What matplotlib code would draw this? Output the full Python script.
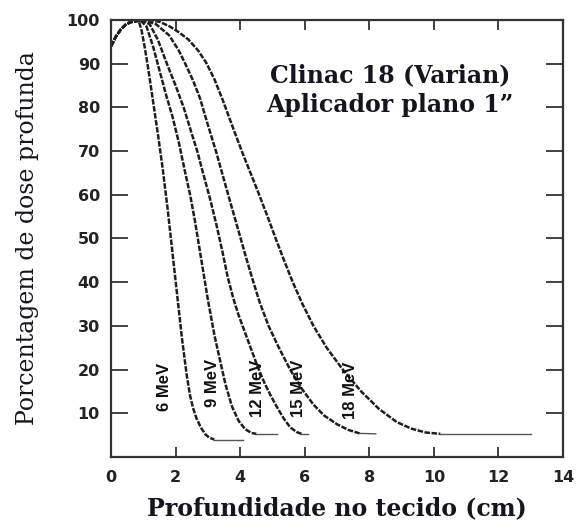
import matplotlib
matplotlib.use("Agg")
import matplotlib.pyplot as plt

# Depth-dose curves for an electron beam (Clinac 18, flat applicator 1")
energies = ["6 MeV", "9 MeV", "12 MeV", "15 MeV", "18 MeV"]

depth_6 = [0.0, 0.15, 0.3, 0.45, 0.6, 0.85, 0.95, 1.05, 1.15, 1.25, 1.35, 1.45, 1.6, 1.75, 1.9, 2.05,
           2.2, 2.35, 2.45, 2.55, 2.65, 2.78, 2.92, 3.05, 3.2, 4.1]
dose_6 = [94, 96.2, 97.8, 98.9, 99.5, 100, 97.5, 93.5, 89, 84, 79, 74, 66, 57, 47, 37,
          27, 18.5, 14, 11, 8.8, 6.8, 5.2, 4.4, 4, 4]

depth_9 = [0.0, 0.15, 0.3, 0.45, 0.6, 0.9, 1.1, 1.3, 1.5, 1.7, 1.9, 2.1, 2.3, 2.45, 2.6, 2.8, 3.0,
           3.2, 3.38, 3.55, 3.75, 3.95, 4.15, 4.35, 4.5, 5.15]
dose_9 = [94, 96.2, 97.8, 98.9, 99.5, 100, 98.5, 94, 88.5, 83, 78, 72, 65, 60, 54, 45, 36,
          28, 22, 16.5, 11.5, 8.3, 6.4, 5.5, 5.3, 5.3]

depth_12 = [0.0, 0.15, 0.3, 0.45, 0.6, 0.95, 1.2, 1.45, 1.73, 2.0, 2.25, 2.5, 2.67, 2.85, 3.07,
            3.27, 3.45, 3.62, 3.8, 3.95, 4.15, 4.35, 4.55, 4.75, 4.95, 5.15, 5.35, 5.55, 5.75,
            5.9, 6.1]
dose_12 = [94, 96.2, 97.8, 98.9, 99.5, 100, 99, 95.5, 90, 85, 80, 74, 70, 65, 59,
           53, 47, 41, 36, 32.5, 28.5, 24.5, 20.5, 17, 14, 11.3, 8.8, 6.8, 5.7,
           5.3, 5.3]

depth_15 = [0.0, 0.15, 0.3, 0.45, 0.6, 1.0, 1.4, 1.8, 2.1, 2.3, 2.55, 2.76, 3.0, 3.25, 3.63, 3.9,
            4.17, 4.37, 4.6, 4.88, 5.2, 5.55, 5.92, 6.27, 6.6, 7.0, 7.35, 7.7, 8.2]
dose_15 = [94, 96.2, 97.8, 98.9, 99.5, 100, 99, 96.5, 93, 90, 86, 82, 76, 70, 60, 53,
           46, 41, 35.5, 30, 25, 20, 15.5, 12, 9.5, 7.5, 6.2, 5.4, 5.3]

depth_18 = [0.0, 0.15, 0.3, 0.45, 0.6, 1.1, 1.5, 1.8, 2.1, 2.4, 2.7, 2.95, 3.2, 3.47, 3.77, 4.05,
            4.32, 4.59, 4.85, 5.1, 5.36, 5.63, 5.93, 6.27, 6.68, 7.18, 7.75, 8.3, 8.85, 9.3, 9.75,
            10.2, 13.0]
dose_18 = [94, 96.2, 97.8, 98.9, 99.5, 100, 99.6, 98.6, 97.2, 95.5, 93, 90.2, 86.5, 81.5, 75.5, 70,
           65, 60, 55, 50, 45, 40, 35, 30, 25, 20, 15, 11, 8, 6.5, 5.6,
           5.3, 5.3]

depths = [depth_6, depth_9, depth_12, depth_15, depth_18]
doses = [dose_6, dose_9, dose_12, dose_15, dose_18]

# label anchor (depth, dose) for each energy tag
label_x = [1.67, 3.13, 4.53, 5.8, 7.41]
label_y = [16, 17, 15.8, 15.8, 15.3]

x_ticks = [0, 2, 4, 6, 8, 10, 12, 14]
y_ticks = [10, 20, 30, 40, 50, 60, 70, 80, 90, 100]

plt.rcParams["lines.scale_dashes"] = False

fig = plt.figure(figsize=(5.77, 5.23), dpi=100)
ax = fig.add_axes([0.1924, 0.1262, 0.7833, 0.8356])

line_color = "#1e1e1e"
for xs, ys in zip(depths, doses):
    # falling part drawn dashed, flat tail drawn as a thin solid line
    ax.plot(xs[:-1], ys[:-1], color=line_color, lw=1.8, linestyle=(0, (4.0, 1.1)),
            solid_joinstyle="round")
    ax.plot(xs[-2:], ys[-2:], color="#555555", lw=1.0)

for name, lx, ly in zip(energies, label_x, label_y):
    ax.text(lx, ly, name, rotation=90, ha="center", va="center",
            fontsize=12, fontweight="bold", family="Liberation Sans",
            color="#111111")

ax.text(8.65, 84.0, "Clinac 18 (Varian)\nAplicador plano 1\u201d",
        ha="center", va="center", fontsize=17, fontweight="bold",
        family="DejaVu Serif", color="#15151f", linespacing=1.3)

ax.set_xlim(0, 14)
ax.set_ylim(0, 100)
ax.set_xticks(x_ticks)
ax.set_yticks(y_ticks)
ax.set_xticklabels([str(v) for v in x_ticks])
ax.set_yticklabels([str(v) for v in y_ticks])

for lab in ax.get_xticklabels() + ax.get_yticklabels():
    lab.set_fontweight("bold")
    lab.set_fontsize(11.5)
    lab.set_family("DejaVu Sans")
    lab.set_color("#222222")

ax.tick_params(axis="x", direction="in", length=7, width=1.3, top=True,
               pad=9.5, colors="#333333", labelcolor="#222222")
ax.tick_params(axis="y", direction="in", length=12.5, width=1.3, right=True,
               pad=8, colors="#333333", labelcolor="#222222")
for sp in ax.spines.values():
    sp.set_linewidth(1.6)
    sp.set_color("#333333")

ax.set_xlabel("Profundidade no tecido (cm)", fontsize=17, fontweight="bold",
              family="DejaVu Serif", color="#15151f", labelpad=8)
ax.set_ylabel("Porcentagem de dose profunda", fontsize=17,
              family="DejaVu Serif", color="#15151f", labelpad=20)

fig.savefig("out.png", dpi=100)
